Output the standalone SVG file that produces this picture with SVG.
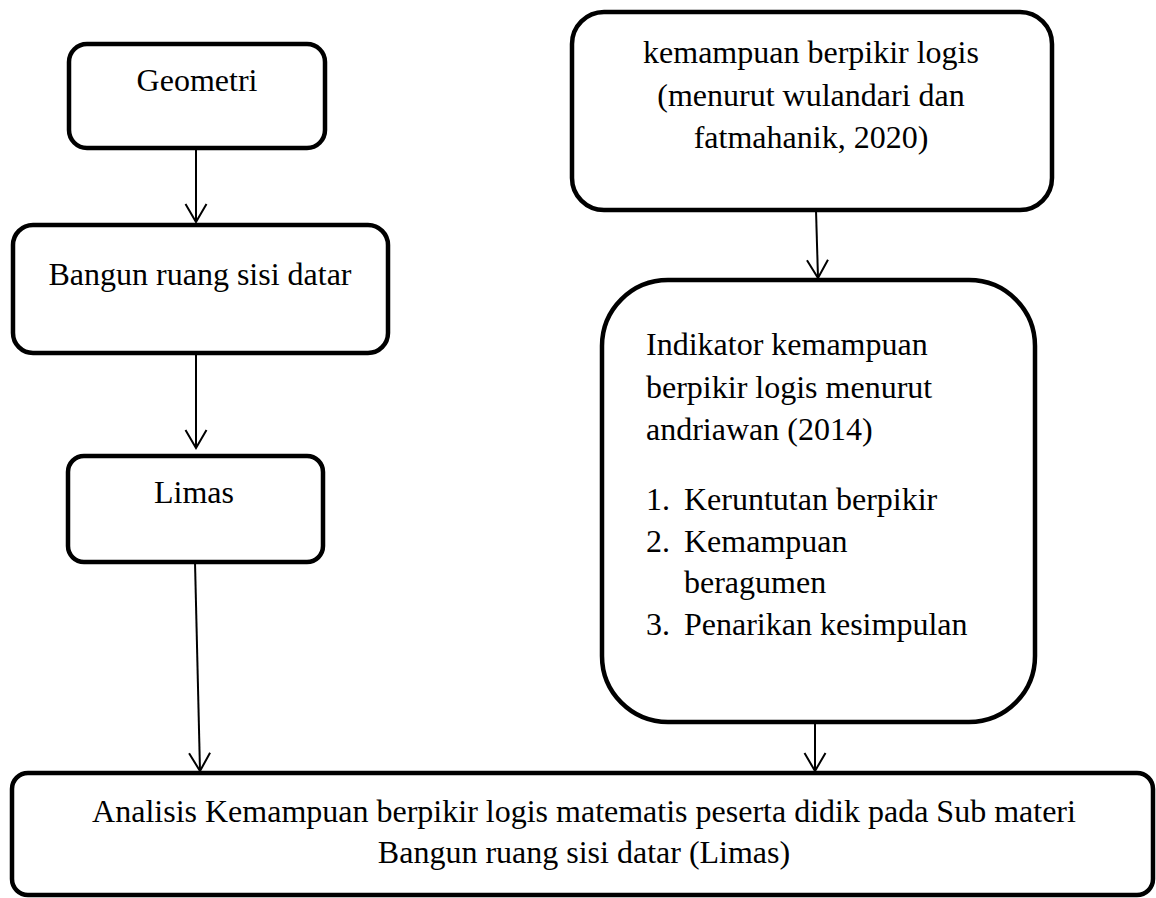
<svg xmlns="http://www.w3.org/2000/svg" width="1156" height="898" viewBox="0 0 1156 898">
<style>
.box{fill:#fff;stroke:#000;stroke-width:4.5}
.t{font-family:'Liberation Serif','DejaVu Serif',serif;font-size:32px;fill:#000}
.c{text-anchor:middle}
.conn line{stroke:#000;stroke-width:2}
</style>
<defs>
<marker id="arr" viewBox="0 0 24 24" refX="21" refY="12" markerWidth="24" markerHeight="24" markerUnits="userSpaceOnUse" orient="auto">
<path d="M3 1.5 L21 12 L3 22.5" fill="none" stroke="#000" stroke-width="2"/>
</marker>
</defs>
<rect width="1156" height="898" fill="#fff"/>
<g id="connectors" class="conn">
<line x1="196" y1="148" x2="196" y2="222" marker-end="url(#arr)"/>
<line x1="196" y1="353" x2="196" y2="448" marker-end="url(#arr)"/>
<line x1="195" y1="562" x2="200" y2="771" marker-end="url(#arr)"/>
<line x1="816" y1="210" x2="818" y2="278" marker-end="url(#arr)"/>
<line x1="815" y1="723" x2="815" y2="771" marker-end="url(#arr)"/>
</g>
<g id="geometri">
<rect class="box" x="69" y="44" width="256" height="104" rx="18"/>
<text class="t c" x="197" y="91">Geometri</text>
</g>
<g id="bangun">
<rect class="box" x="13" y="225" width="375" height="128" rx="20"/>
<text class="t c" x="200" y="285">Bangun ruang sisi datar</text>
</g>
<g id="limas">
<rect class="box" x="68" y="456" width="255" height="106" rx="16"/>
<text class="t c" x="194" y="503">Limas</text>
</g>
<g id="kemampuan">
<rect class="box" x="572" y="12" width="480" height="198" rx="32"/>
<text class="t c" x="811" y="63">kemampuan berpikir logis</text>
<text class="t c" x="811" y="106">(menurut wulandari dan</text>
<text class="t c" x="811" y="148">fatmahanik, 2020)</text>
</g>
<g id="indikator">
<rect class="box" x="602" y="280" width="433" height="442" rx="66"/>
<text class="t" x="646" y="355">Indikator kemampuan</text>
<text class="t" x="646" y="398">berpikir logis menurut</text>
<text class="t" x="646" y="440">andriawan (2014)</text>
<text class="t" x="646" y="510">1.</text>
<text class="t" x="684" y="510">Keruntutan berpikir</text>
<text class="t" x="646" y="552">2.</text>
<text class="t" x="684" y="552">Kemampuan</text>
<text class="t" x="684" y="593">beragumen</text>
<text class="t" x="646" y="635">3.</text>
<text class="t" x="684" y="635">Penarikan kesimpulan</text>
</g>
<g id="analisis">
<rect class="box" x="12" y="773" width="1141" height="122" rx="16"/>
<text class="t c" x="584" y="822">Analisis Kemampuan berpikir logis matematis peserta didik pada Sub materi</text>
<text class="t c" x="584" y="863">Bangun ruang sisi datar (Limas)</text>
</g>
</svg>
